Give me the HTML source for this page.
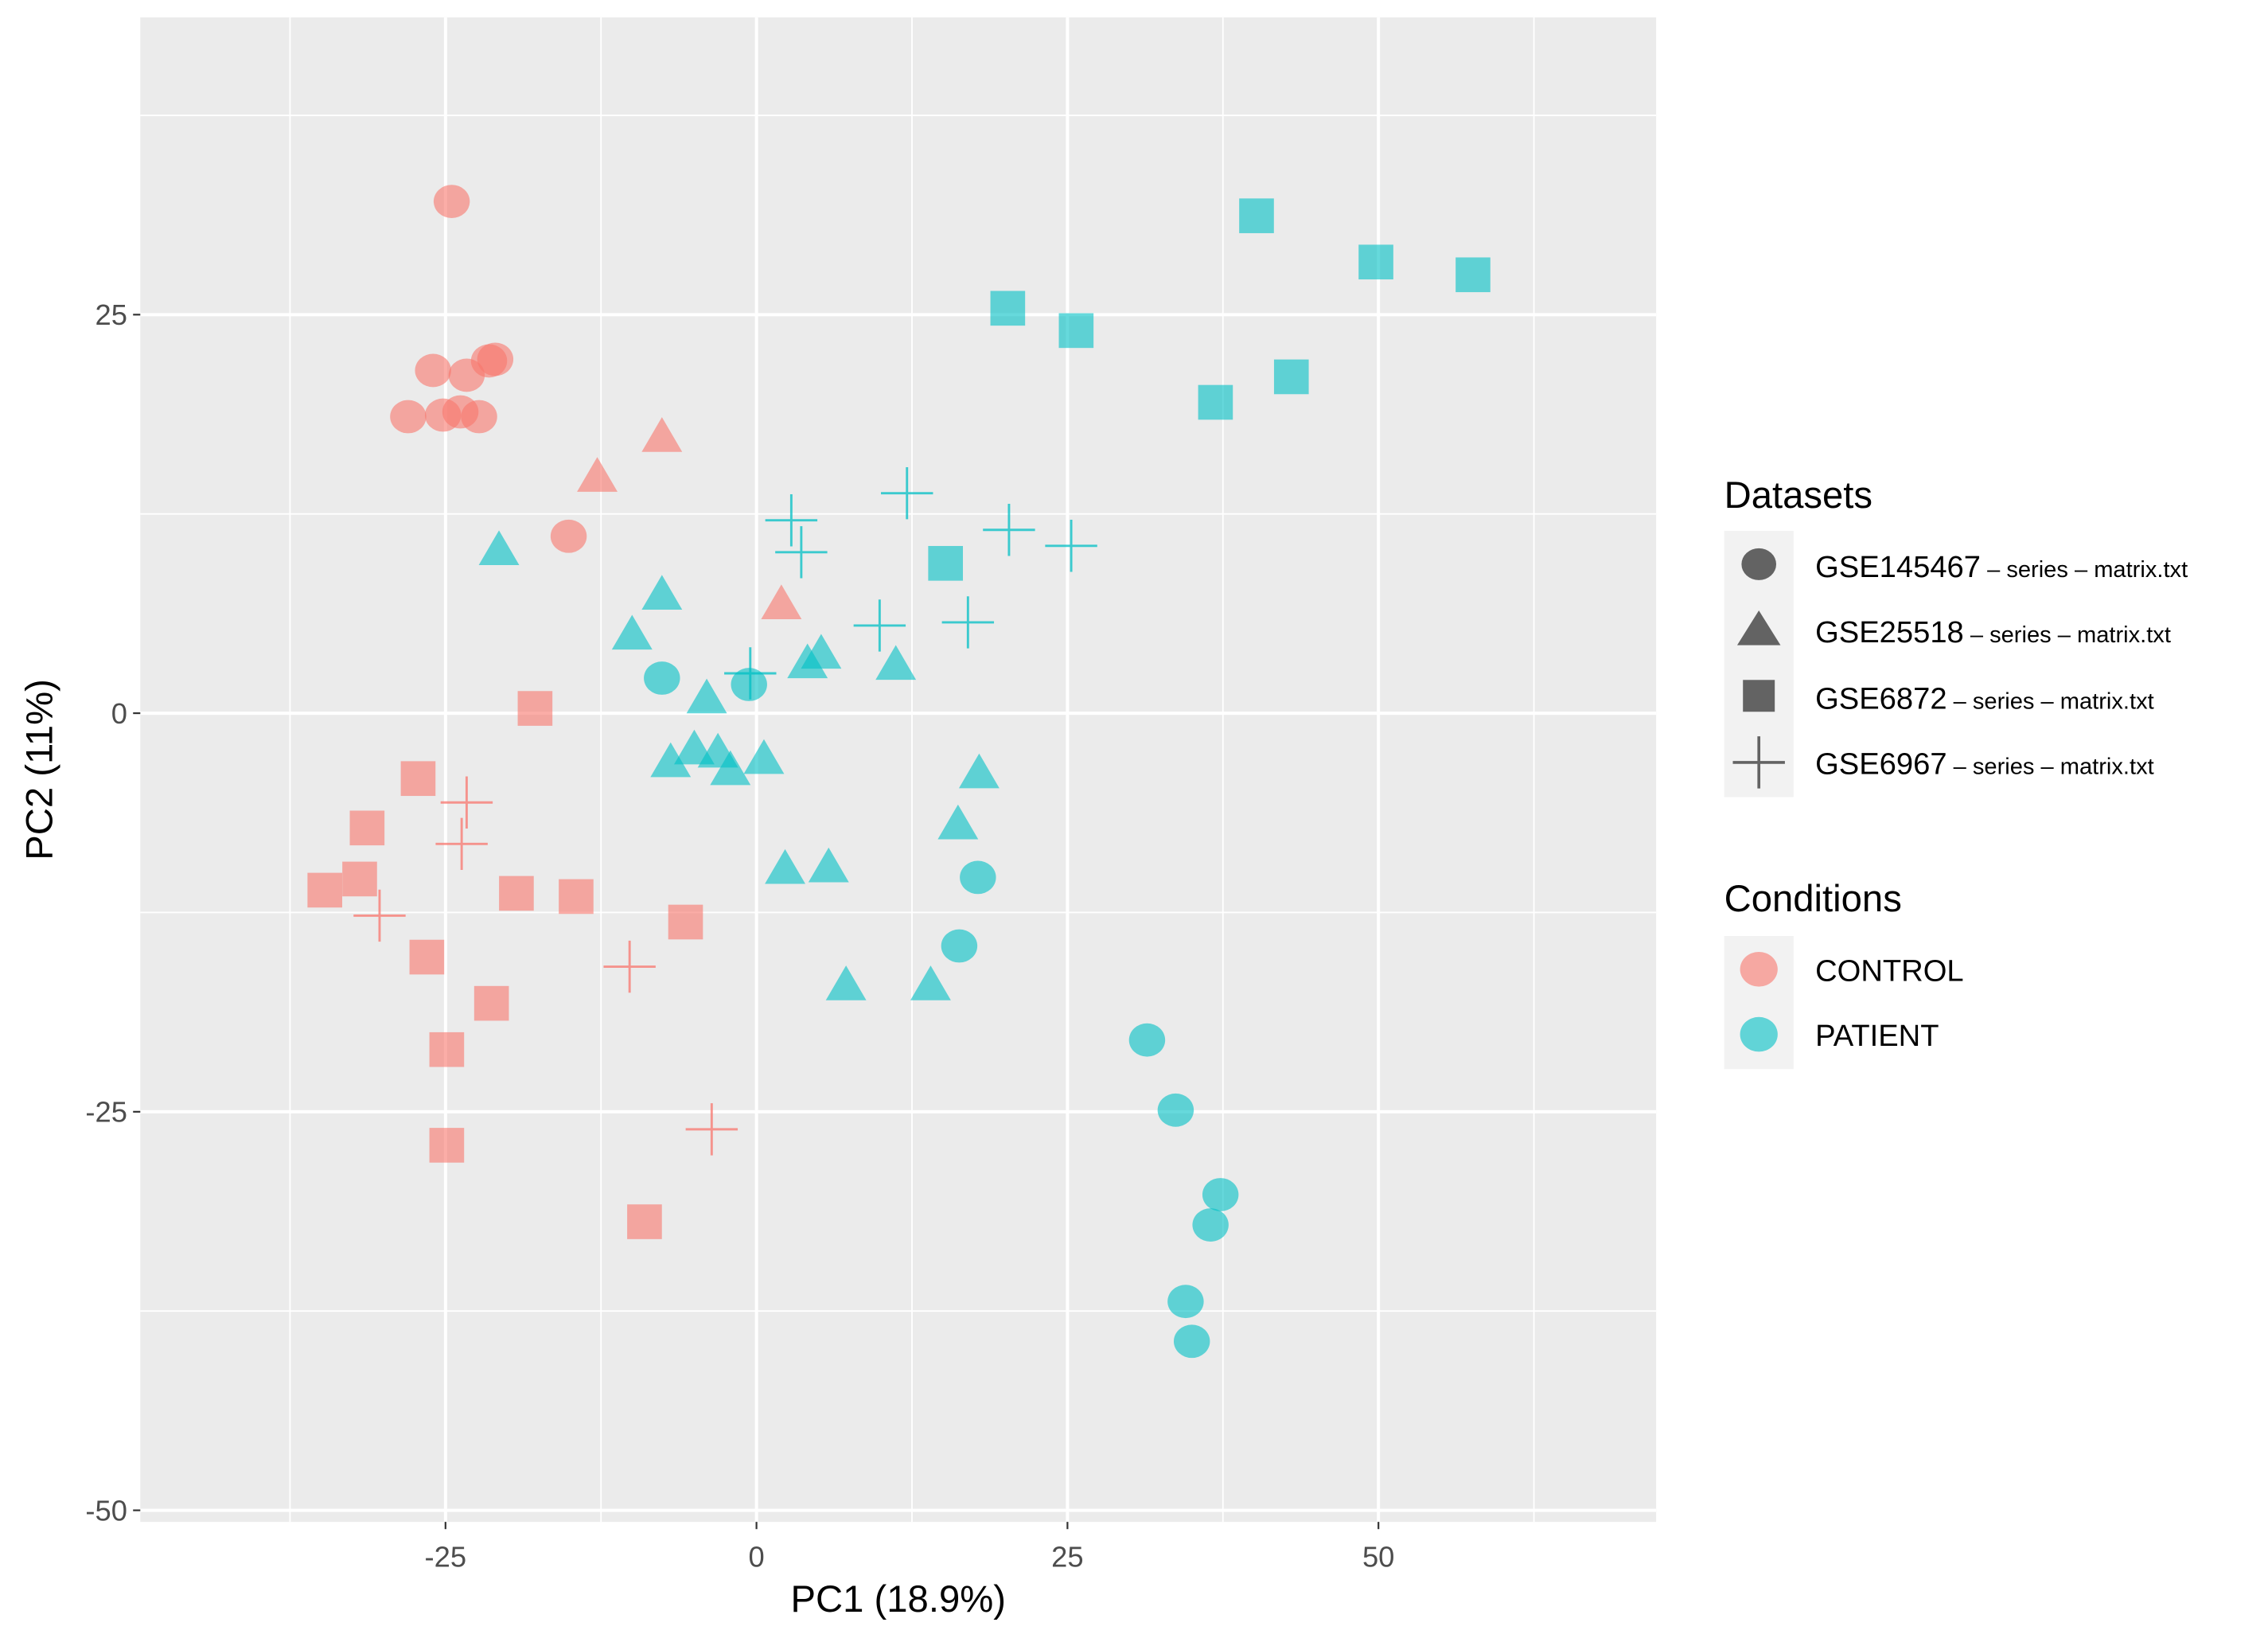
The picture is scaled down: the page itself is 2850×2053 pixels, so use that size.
<!DOCTYPE html>
<html><head><meta charset="utf-8"><style>
html,body{margin:0;padding:0;background:#fff;}
svg{display:block;font-family:"Liberation Sans",sans-serif;}
</style></head><body>
<svg id="chart" width="2850" height="2053" viewBox="0 0 1568 1129.5" preserveAspectRatio="none" xmlns="http://www.w3.org/2000/svg">
<rect x="97" y="12" width="1048" height="1040" fill="#ebebeb"/>
<g id="grid"></g>
<g id="marks"></g>
<g id="axes"></g>
<text x="621" y="1114" font-size="26" text-anchor="middle" fill="#000">PC1 (18.9%)</text>
<text transform="translate(36,532) rotate(-90)" font-size="26" text-anchor="middle" fill="#000">PC2 (11%)</text>
<g>
<text x="1192" y="351" font-size="26">Datasets</text>
<rect x="1192" y="367" width="48" height="184" fill="#f2f2f2"/>
<ellipse cx="1216" cy="390" rx="12" ry="11" fill="#636363"/>
<polygon points="1216,422 1231,446 1201,446" fill="#636363"/>
<rect x="1205" y="470" width="22" height="22" fill="#636363"/>
<path d="M1198 527 H1234 M1216 509 V545" stroke="#636363" stroke-width="2"/>
<text x="1255" y="399" font-size="21">GSE145467<tspan font-size="16"> – series – matrix.txt</tspan></text>
<text x="1255" y="444" font-size="21">GSE25518<tspan font-size="16"> – series – matrix.txt</tspan></text>
<text x="1255" y="490" font-size="21">GSE6872<tspan font-size="16"> – series – matrix.txt</tspan></text>
<text x="1255" y="535" font-size="21">GSE6967<tspan font-size="16"> – series – matrix.txt</tspan></text>
<text x="1192" y="630" font-size="26">Conditions</text>
<rect x="1192" y="647" width="48" height="92" fill="#f2f2f2"/>
<ellipse cx="1216" cy="670" rx="13" ry="12" fill="#F8766D" opacity="0.6"/>
<ellipse cx="1216" cy="715" rx="13" ry="12" fill="#00BFC4" opacity="0.6"/>
<text x="1255" y="678" font-size="21">CONTROL</text>
<text x="1255" y="723" font-size="21">PATIENT</text>
</g>
</svg>
<script>
const xTicks=[-25,0,25,50];
const yTicks=[25,0,-25,-50];
const xMinor=[-37.5,-12.5,12.5,37.5,62.5];
const yMinor=[37.5,12.5,-12.5,-37.5];
// series: [x, y]
const ctrlCircle=[[-24.5,32.1],[-26,21.5],[-23.3,21.2],[-21.5,22.1],[-21,22.2],[-28,18.6],[-25.2,18.7],[-23.8,18.9],[-22.3,18.6],[-15.1,11.1]];
const ctrlTri=[[-7.6,17.3],[-12.8,14.8],[2,6.8]];
const ctrlSquare=[[-17.8,0.3],[-27.2,-4.1],[-31.3,-7.2],[-34.7,-11.1],[-31.9,-10.4],[-19.3,-11.3],[-14.5,-11.5],[-26.5,-15.3],[-5.7,-13.1],[-21.3,-18.2],[-24.9,-21.1],[-24.9,-27.1],[-9,-31.9]];
const ctrlPlus=[[-23.3,-5.6],[-23.7,-8.2],[-30.3,-12.7],[-10.2,-15.9],[-3.6,-26.1]];
const patCircle=[[-7.6,2.2],[-0.6,1.8],[17.8,-10.3],[16.3,-14.6],[31.4,-20.5],[33.7,-24.9],[37.3,-30.2],[36.5,-32.1],[34.5,-36.9],[35,-39.4]];
const patTri=[[-20.7,10.2],[-7.6,7.4],[-10,4.9],[-4,0.9],[5.2,3.7],[4.1,3.1],[11.2,3],[-6.9,-3.1],[-5,-2.3],[-3.1,-2.5],[-2.1,-3.6],[0.6,-2.9],[17.9,-3.8],[16.2,-7],[2.3,-9.8],[5.8,-9.7],[7.2,-17.1],[14,-17.1]];
const patSquare=[[40.2,31.2],[49.8,28.3],[57.6,27.5],[20.2,25.4],[25.7,24],[43,21.1],[36.9,19.5],[15.2,9.4]];
const patPlus=[[12.1,13.8],[2.8,12.1],[3.6,10.1],[20.3,11.5],[25.3,10.5],[9.9,5.5],[17,5.7],[-0.5,2.5]];

const NS="http://www.w3.org/2000/svg";
const X=v=>523+v*8.6;
const Y=v=>493-v*11.02;
const L=97,R=1145,T=12,B=1052;
function mk(tag,attrs,parent){const e=document.createElementNS(NS,tag);for(const k in attrs)e.setAttribute(k,attrs[k]);parent.appendChild(e);return e;}
const grid=document.getElementById('grid'),marks=document.getElementById('marks'),axes=document.getElementById('axes');
xMinor.forEach(v=>{const e=mk('line',{x1:X(v),x2:X(v),y1:T,y2:B,stroke:'#fff','stroke-width':1},grid);

});
yMinor.forEach(v=>{const e=mk('line',{x1:L,x2:R,y1:Y(v),y2:Y(v),stroke:'#fff','stroke-width':1},grid);

});
xTicks.forEach(v=>{const e=mk('line',{x1:X(v),x2:X(v),y1:T,y2:B,stroke:'#fff','stroke-width':2.2},grid);


mk('line',{x1:X(v),x2:X(v),y1:B,y2:B+5,stroke:'#333','stroke-width':1.2},axes);
const l=mk('text',{x:X(v),y:B+31,'font-size':20,'text-anchor':'middle',fill:'#4d4d4d'},axes);l.textContent=v;

});
yTicks.forEach(v=>{const e=mk('line',{x1:L,x2:R,y1:Y(v),y2:Y(v),stroke:'#fff','stroke-width':2.2},grid);


mk('line',{x1:L-5,x2:L,y1:Y(v),y2:Y(v),stroke:'#333','stroke-width':1.2},axes);
const l=mk('text',{x:L-9,y:Y(v)+7,'font-size':20,'text-anchor':'end',fill:'#4d4d4d'},axes);l.textContent=v;

});
function draw(arr,shape,color,name){arr.forEach(p=>{const x=X(p[0]),y=Y(p[1]);let e;
if(shape==='c')e=mk('ellipse',{cx:x,cy:y,rx:12.5,ry:11.5,fill:color,opacity:0.6},marks);
else if(shape==='t')e=mk('polygon',{points:`${x},${y-14} ${x+14},${y+10} ${x-14},${y+10}`,fill:color,opacity:0.6},marks);
else if(shape==='s')e=mk('rect',{x:x-12,y:y-12,width:24,height:24,fill:color,opacity:0.6},marks);
else e=mk('path',{d:`M${x-18} ${y} H${x+18} M${x} ${y-18} V${y+18}`,stroke:color,'stroke-width':1.6,fill:'none',opacity:0.75},marks);

});}
const C='#F8766D',P='#00BFC4';
draw(ctrlCircle,'c',C,'control-gse145467-point');
draw(ctrlTri,'t',C,'control-gse25518-point');
draw(ctrlSquare,'s',C,'control-gse6872-point');
draw(ctrlPlus,'p',C,'control-gse6967-point');
draw(patCircle,'c',P,'patient-gse145467-point');
draw(patTri,'t',P,'patient-gse25518-point');
draw(patSquare,'s',P,'patient-gse6872-point');
draw(patPlus,'p',P,'patient-gse6967-point');
</script>
</body></html>
